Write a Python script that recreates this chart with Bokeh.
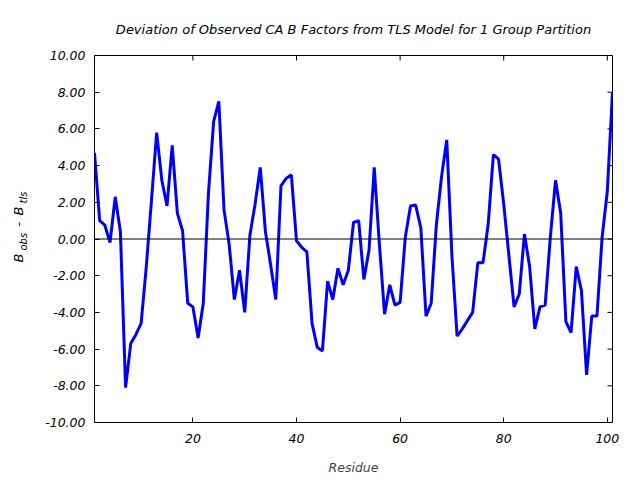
import math
from bokeh.plotting import figure
from bokeh.layouts import row
from bokeh.models import (LinearAxis, FixedTicker, PrintfTickFormatter, Span, Label,
                          ColumnDataSource)
from bokeh.embed import file_html
from bokeh.resources import INLINE

# ---- data ----
residues = list(range(1, 102))
deviation = [4.7, 1.0, 0.75, -0.2, 2.3, 0.4, -8.1, -5.7, -5.2, -4.6,
             -1.5, 2.1, 5.8, 3.2, 1.8, 5.1, 1.4, 0.45, -3.5, -3.7,
             -5.4, -3.5, 2.5, 6.4, 7.5, 1.6, -0.3, -3.3, -1.7, -4.0,
             0.2, 1.9, 3.9, 0.4, -1.4, -3.3, 2.9, 3.3, 3.5, -0.1,
             -0.45, -0.7, -4.6, -5.9, -6.1, -2.3, -3.3, -1.6, -2.5, -1.7,
             0.9, 1.0, -2.2, -0.6, 3.9, -0.3, -4.1, -2.5, -3.6, -3.45,
             0.1, 1.8, 1.85, 0.6, -4.2, -3.5, 0.8, 3.4, 5.4, -0.9,
             -5.3, -4.9, -4.45, -4.0, -1.3, -1.3, 0.8, 4.6, 4.35, 1.9,
             -0.9, -3.7, -3.0, 0.27, -1.5, -4.9, -3.7, -3.6, 0.1, 3.2,
             1.4, -4.5, -5.1, -1.5, -2.8, -7.4, -4.2, -4.2, 0.1, 2.6, 8.0]
x_ticks = [20, 40, 60, 80, 100]
y_ticks = [-10, -8, -6, -4, -2, 0, 2, 4, 6, 8, 10]
title_text = "Deviation of Observed CA B Factors from TLS Model for 1 Group Partition"
x_label = "Residue"
y_label_parts = ["B", "obs", "-", "B", "tls"]

FONT = "DejaVu Sans"
X_MIN, X_MAX, Y_MIN, Y_MAX = 1, 101, -10, 10
LABEL_W = 30

# ---- main plot ----
p = figure(width=640 - LABEL_W, height=480, x_range=(X_MIN, X_MAX), y_range=(Y_MIN, Y_MAX),
           output_backend="svg", toolbar_location=None,
           x_axis_location=None, y_axis_location=None,
           min_border_left=94 - LABEL_W, min_border_right=28,
           min_border_top=55, min_border_bottom=58)
p.background_fill_color = "white"
p.border_fill_color = "white"
p.outline_line_color = "black"
p.outline_line_width = 1
p.outline_line_alpha = 1.0
p.xgrid.visible = False
p.ygrid.visible = False

p.title.text = title_text
p.title.align = "center"
p.title.text_font = FONT
p.title.text_font_style = "italic"
p.title.text_font_size = "13px"
p.title.text_color = "black"
p.title.text_line_height = 1.0
p.title.standoff = 37


def style_axis(ax):
    ax.axis_line_color = None
    ax.major_tick_in = 5
    ax.major_tick_out = 0
    ax.minor_tick_line_color = None
    ax.major_tick_line_color = "black"
    ax.major_label_text_font = FONT
    ax.major_label_text_font_style = "italic"
    ax.major_label_text_color = "black"
    ax.major_label_text_font_size = "12.5px"


xb = LinearAxis(ticker=FixedTicker(ticks=x_ticks))
style_axis(xb)
xb.major_label_standoff = 11
xb.axis_label = x_label
xb.axis_label_text_font = FONT
xb.axis_label_text_font_style = "italic"
xb.axis_label_text_font_size = "12.5px"
xb.axis_label_standoff = 14
p.add_layout(xb, "below")

yl = LinearAxis(ticker=FixedTicker(ticks=y_ticks),
                formatter=PrintfTickFormatter(format="%.2f"))
style_axis(yl)
yl.major_label_standoff = 9
p.add_layout(yl, "left")

# inward ticks on the top and right frame edges (outer half of each dash is clipped)
p.scatter(x=x_ticks, y=[Y_MAX] * len(x_ticks), marker="dash", angle=math.pi / 2,
          size=10, line_color="black", line_width=1)
p.scatter(x=[X_MAX] * len(y_ticks), y=y_ticks, marker="dash",
          size=10, line_color="black", line_width=1)

p.add_layout(Span(location=0, dimension="width", line_color="black", line_width=1))

src = ColumnDataSource(data=dict(x=residues, y=deviation))
p.line("x", "y", source=src, line_color="#0000ff", line_width=3)

# ---- narrow strip holding the rotated y-axis label B_obs - B_tls ----
lab = figure(width=LABEL_W, height=480, x_range=(0, 1), y_range=(0, 1),
             output_backend="svg", toolbar_location=None, title=None,
             x_axis_location=None, y_axis_location=None,
             min_border=0)
lab.outline_line_color = None
lab.background_fill_color = "white"
lab.border_fill_color = "white"
lab.xgrid.visible = False
lab.ygrid.visible = False

# (canvas y of start, canvas x of baseline, font size)
placement = [(262, 18, "13px"), (250, 22.5, "10px"), (226, 18, "13px"),
             (215, 18, "13px"), (203, 22.5, "10px")]
for txt, (cy, cx, fs) in zip(y_label_parts, placement):
    lab.add_layout(Label(x=cx, y=cy, x_units="canvas", y_units="canvas",
                         text=txt, angle=math.pi / 2,
                         text_align="left", text_baseline="alphabetic",
                         text_font=FONT, text_font_style="italic",
                         text_font_size=fs, text_color="black"))

layout = row(lab, p)
open("out.html", "w").write(file_html(layout, INLINE))
